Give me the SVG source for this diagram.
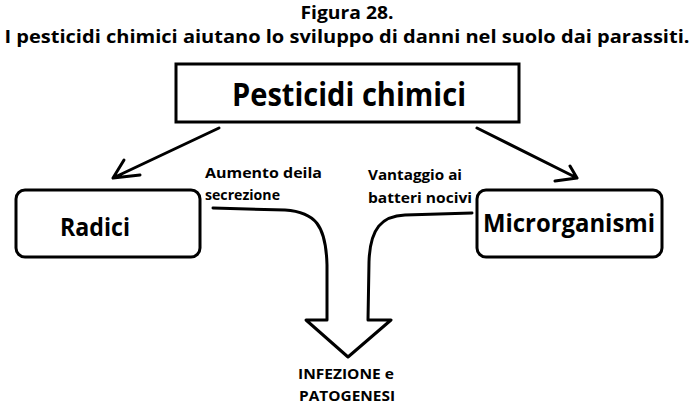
<svg xmlns="http://www.w3.org/2000/svg" width="694" height="415" viewBox="0 0 694 415">
<style>
text{font-family:"Open Sans","Liberation Sans",sans-serif;font-weight:bold;fill:#000}
.box{fill:#fff;stroke:#000;stroke-width:3}
.ln{fill:none;stroke:#000;stroke-width:3;stroke-linecap:round;stroke-linejoin:round}
</style>
<rect width="694" height="415" fill="#fff"/>
<g id="title">
<text x="347" y="19" font-size="18" text-anchor="middle" textLength="93" lengthAdjust="spacingAndGlyphs">Figura 28.</text>
<text x="347" y="43" font-size="18" text-anchor="middle" textLength="685" lengthAdjust="spacingAndGlyphs">I pesticidi chimici aiutano lo sviluppo di danni nel suolo dai parassiti.</text>
</g>
<g id="pesticidi">
<rect class="box" x="176" y="64" width="343" height="58"/>
<text x="349" y="106" font-size="33" text-anchor="middle" textLength="234" lengthAdjust="spacingAndGlyphs">Pesticidi chimici</text>
</g>
<g id="radici">
<rect class="box" x="16" y="190" width="184" height="67" rx="9"/>
<text x="95" y="236" font-size="25" text-anchor="middle" textLength="70" lengthAdjust="spacingAndGlyphs">Radici</text>
</g>
<g id="microrganismi">
<rect class="box" x="477" y="190" width="185" height="67" rx="9"/>
<text x="569" y="232" font-size="25" text-anchor="middle" textLength="172" lengthAdjust="spacingAndGlyphs">Microrganismi</text>
</g>
<g id="infezione">
<text x="346" y="379" font-size="15" text-anchor="middle" textLength="96" lengthAdjust="spacingAndGlyphs">INFEZIONE e</text>
<text x="347" y="401" font-size="15" text-anchor="middle" textLength="96" lengthAdjust="spacingAndGlyphs">PATOGENESI</text>
</g>
<g id="connectors">
<path class="ln" d="M219,128 L113,178 M124,160 L113,178 L140,175"/>
<path class="ln" d="M477,128 L577,178 M570,166 L577,178 L555,181"/>
<path class="ln" d="M213,208 L285,210 C315,212 326,225 327,265 L327,320 L306,320 L348,357 L391,320 L368,320 L369,262 C370,228 382,216 405,215 L472,213"/>
<text x="205" y="178" font-size="15" textLength="117" lengthAdjust="spacingAndGlyphs">Aumento deila</text>
<text x="205" y="200" font-size="15" textLength="75" lengthAdjust="spacingAndGlyphs">secrezione</text>
<text x="368" y="180" font-size="15" textLength="94" lengthAdjust="spacingAndGlyphs">Vantaggio ai</text>
<text x="368" y="203" font-size="15" textLength="104" lengthAdjust="spacingAndGlyphs">batteri nocivi</text>
</g>
</svg>
